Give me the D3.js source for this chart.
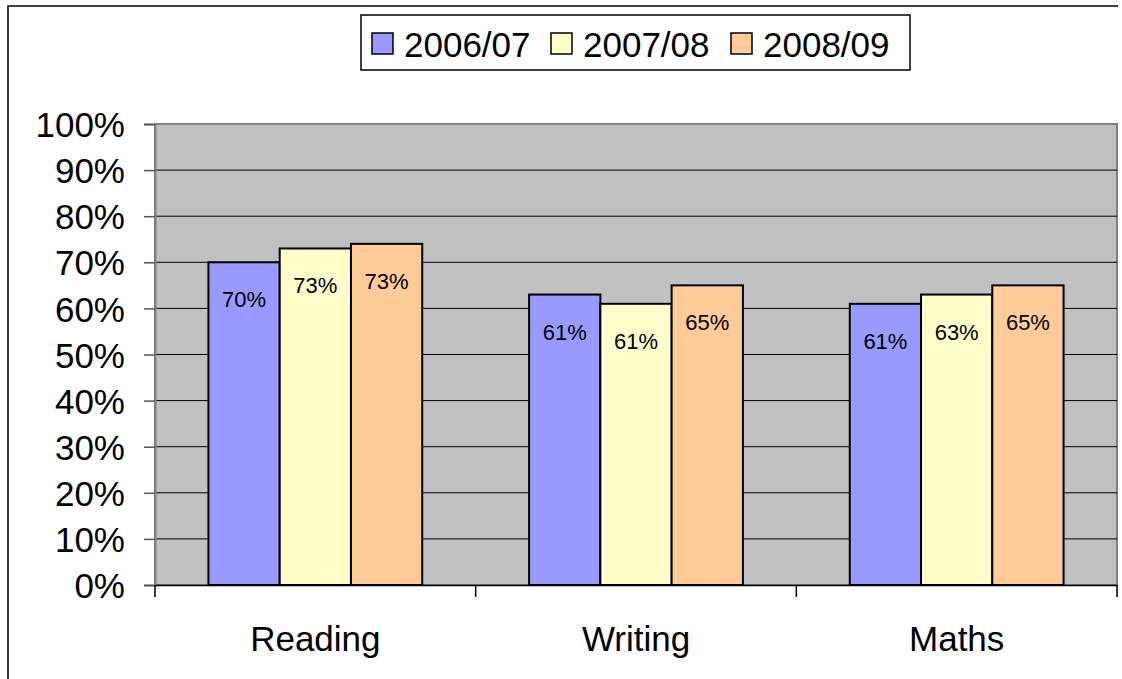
<!DOCTYPE html>
<html>
<head>
<meta charset="utf-8">
<script src="https://cdn.jsdelivr.net/npm/d3@7"></script>
<style>
  body { margin: 0; background: #fff; }
  text { font-family: "Liberation Sans", Arial, sans-serif; fill: #000; }
</style>
</head>
<body>
<div class="chart"></div>
<script>
// data
var subjects = ["Reading", "Writing", "Maths"];
var years = ["2006/07", "2007/08", "2008/09"];
var colors = ["#9999ff", "#ffffcc", "#ffcc99"];
// bar heights (%)
var values2006 = [70, 63, 61];
var values2007 = [73, 61, 63];
var values2008 = [74, 65, 65];
// labels printed on the bars
var labels2006 = ["70%", "61%", "61%"];
var labels2007 = ["73%", "61%", "63%"];
var labels2008 = ["73%", "65%", "65%"];
var yTicks = [0, 10, 20, 30, 40, 50, 60, 70, 80, 90, 100];

var seriesValues = [values2006, values2007, values2008];
var seriesLabels = [labels2006, labels2007, labels2008];

var svgWidth = 1122;
var svgHeight = 679;

// plot area
var plot = { left: 155, right: 1117, top: 124, bottom: 585 };

var svg = d3.select(".chart")
  .append("svg")
  .attr("width", svgWidth)
  .attr("height", svgHeight);

// outer chart frame (only top and left show in the picture)
svg.append("path")
  .attr("d", "M8," + svgHeight + "V6H" + (svgWidth - 4))
  .attr("fill", "none")
  .attr("stroke", "#000")
  .attr("stroke-width", 1.5);

var xScale = d3.scaleBand()
  .domain(subjects)
  .range([plot.left, plot.right]);

var xInner = d3.scaleBand()
  .domain(years)
  .range([0, xScale.bandwidth()])
  .paddingOuter(0.75);

var yScale = d3.scaleLinear()
  .domain([0, 100])
  .range([plot.bottom, plot.top]);

// grey plot background
svg.append("rect")
  .attr("x", plot.left)
  .attr("y", plot.top)
  .attr("width", plot.right - plot.left)
  .attr("height", plot.bottom - plot.top)
  .attr("fill", "#c0c0c0")
  .attr("stroke", "#808080")
  .attr("stroke-width", 2);

// gridlines
svg.append("g")
  .selectAll("line")
  .data(yTicks.filter(d => d > 0 && d < 100))
  .enter()
  .append("line")
  .attr("x1", plot.left)
  .attr("x2", plot.right)
  .attr("y1", d => yScale(d))
  .attr("y2", d => yScale(d))
  .attr("stroke", "#000")
  .attr("stroke-width", 1);

// y axis
var leftAxis = d3.axisLeft(yScale)
  .tickValues(yTicks)
  .tickSize(11)
  .tickPadding(19)
  .tickFormat(d => d + "%");

var yAxis = svg.append("g")
  .attr("transform", `translate(${plot.left}, 0)`)
  .call(leftAxis);
yAxis.select(".domain").attr("stroke", "#808080").attr("stroke-width", 2);
yAxis.selectAll(".tick line").attr("stroke", "#555").attr("stroke-width", 1.5);
yAxis.selectAll("text")
  .attr("font-size", "35px")
  .attr("dy", "0.36em");

// bars
var barData = [];
subjects.forEach(function(s, i) {
  years.forEach(function(y, j) {
    barData.push({ subject: s, year: y, value: seriesValues[j][i], label: seriesLabels[j][i], color: colors[j] });
  });
});

var barsGroup = svg.append("g");
barsGroup.selectAll("rect")
  .data(barData)
  .enter()
  .append("rect")
  .attr("x", d => xScale(d.subject) + xInner(d.year))
  .attr("y", d => yScale(d.value))
  .attr("width", xInner.bandwidth())
  .attr("height", d => yScale(0) - yScale(d.value))
  .attr("fill", d => d.color)
  .attr("stroke", "#000")
  .attr("stroke-width", 2);

barsGroup.selectAll("text")
  .data(barData)
  .enter()
  .append("text")
  .attr("x", d => xScale(d.subject) + xInner(d.year) + xInner.bandwidth() / 2)
  .attr("y", d => yScale(d.value) + 45)
  .attr("text-anchor", "middle")
  .attr("font-size", "22px")
  .text(d => d.label);

// x axis
var bottomAxis = d3.axisBottom(xScale)
  .tickSize(0)
  .tickPadding(41);

var xAxis = svg.append("g")
  .attr("transform", `translate(0, ${plot.bottom})`)
  .call(bottomAxis);
xAxis.select(".domain").attr("stroke", "#000").attr("stroke-width", 1.5);
xAxis.selectAll("text").attr("font-size", "35px");

// tick marks between categories
var boundaries = subjects.map(s => xScale(s)).concat([plot.right]);
xAxis.selectAll(".bound")
  .data(boundaries)
  .enter()
  .append("line")
  .attr("class", "bound")
  .attr("x1", d => d)
  .attr("x2", d => d)
  .attr("y1", 0)
  .attr("y2", 12)
  .attr("stroke", "#000")
  .attr("stroke-width", 1.5);

// legend
var legend = svg.append("g");
legend.append("rect")
  .attr("x", 361)
  .attr("y", 15)
  .attr("width", 549)
  .attr("height", 55)
  .attr("fill", "#fff")
  .attr("stroke", "#000")
  .attr("stroke-width", 1.5);

var legendX = [372, 551, 731];
var legendItems = legend.selectAll(".item")
  .data(years)
  .enter()
  .append("g")
  .attr("class", "item")
  .attr("transform", (d, i) => `translate(${legendX[i]}, 0)`);

legendItems.append("rect")
  .attr("x", 0)
  .attr("y", 33)
  .attr("width", 21)
  .attr("height", 21)
  .attr("fill", (d, i) => colors[i])
  .attr("stroke", "#000")
  .attr("stroke-width", 1.5);

legendItems.append("text")
  .attr("x", 32)
  .attr("y", 57)
  .attr("font-size", "35px")
  .text(d => d);
</script>
</body>
</html>
